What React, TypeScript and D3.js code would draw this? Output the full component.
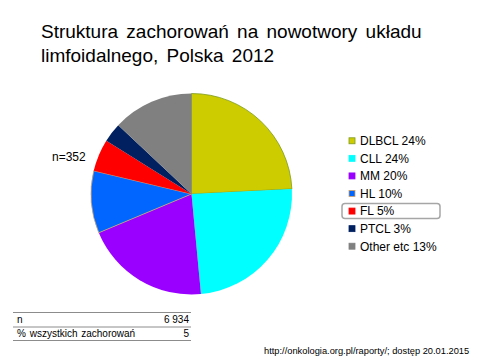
import * as d3 from 'd3'

const titleLines = ['Struktura zachorowań na nowotwory układu', 'limfoidalnego, Polska 2012']
const categories = ['DLBCL', 'CLL', 'MM', 'HL', 'FL', 'PTCL', 'Other etc']
const shares = [24.2, 24.3, 20.2, 10, 5.2, 3.1, 13]
const legendLabels = ['DLBCL 24%', 'CLL 24%', 'MM  20%', 'HL 10%', 'FL 5%', 'PTCL 3%', 'Other etc 13%']
const colors = ['#cccc00', '#00ffff', '#9900ff', '#0066ff', '#ff0000', '#002060', '#808080']
const outlines = ['#7f9a1e', 'none', 'none', '#d2a46c', 'none', 'none', 'none']
const tableRows = [
  { label: 'n', value: '6 934' },
  { label: '% wszystkich zachorowań', value: '5' },
]
const nLabel = 'n=352'
const sourceText = 'http://onkologia.org.pl/raporty/; dostęp 20.01.2015'

const font = 'Arial, "Liberation Sans", sans-serif'

export default function App() {
  const cx = 191.5
  const cy = 194
  const radius = 100.5

  const pie = d3
    .pie<number>()
    .sort(null)
    .value(d => d)
  const arcs = pie(shares)
  const arcGen = d3.arc<d3.PieArcDatum<number>>().innerRadius(0).outerRadius(radius)

  // legend rows
  const legendY = d3
    .scaleBand<number>()
    .domain(d3.range(categories.length))
    .range([132, 255])

  const tableY = d3
    .scaleBand<number>()
    .domain(d3.range(tableRows.length))
    .range([312.5, 340.5])

  return (
    <svg
      width={480}
      height={360}
      style={{ position: 'fixed', left: 0, top: 0, background: '#fff' }}
      fontFamily={font}
    >
      <rect width={480} height={360} fill="#fff" />
      {titleLines.map((t, i) => (
        <text key={t} x={41} y={38 + i * 24} fontSize={19} wordSpacing={3} fill="#000">
          {t}
        </text>
      ))}

      <g transform={`translate(${cx},${cy})`}>
        {arcs.map((a, i) => (
          <path
            key={categories[i]}
            d={arcGen(a) ?? ''}
            fill={colors[i]}
            stroke={outlines[i]}
            strokeWidth={0.8}
          />
        ))}
      </g>

      <text x={52} y={161} fontSize={12} fill="#000">
        {nLabel}
      </text>

      {categories.map((c, i) => {
        const y = legendY(i)! + legendY.bandwidth() / 2
        return (
          <g key={c}>
            {c === 'FL' && (
              <rect
                x={342}
                y={y - 7.5}
                width={98}
                height={15}
                rx={3}
                fill="none"
                stroke="#a6a6a6"
                strokeWidth={1.5}
              />
            )}
            <rect
              x={349}
              y={y - 3}
              width={6}
              height={6}
              fill={colors[i]}
              stroke={outlines[i] === 'none' ? colors[i] : outlines[i]}
              strokeWidth={0.8}
            />
            <text x={360} y={y + 4.3} fontSize={12} fill="#000">
              {legendLabels[i]}
            </text>
          </g>
        )
      })}

      <g>
        {[312.5, 327, 340.5].map(y => (
          <line key={y} x1={13} x2={191} y1={y} y2={y} stroke="#8c8c8c" strokeWidth={1} />
        ))}
        {tableRows.map((r, i) => {
          const y = tableY(i)! + tableY.bandwidth() / 2 + 3.5
          return (
            <g key={r.label}>
              <text x={17} y={y} fontSize={10} wordSpacing={1} fill="#000">
                {r.label}
              </text>
              <text x={189} y={y} fontSize={10} fill="#000" textAnchor="end">
                {r.value}
              </text>
            </g>
          )
        })}
      </g>

      <text x={264} y={354} fontSize={9.3} fill="#000">
        {sourceText}
      </text>
    </svg>
  )
}
